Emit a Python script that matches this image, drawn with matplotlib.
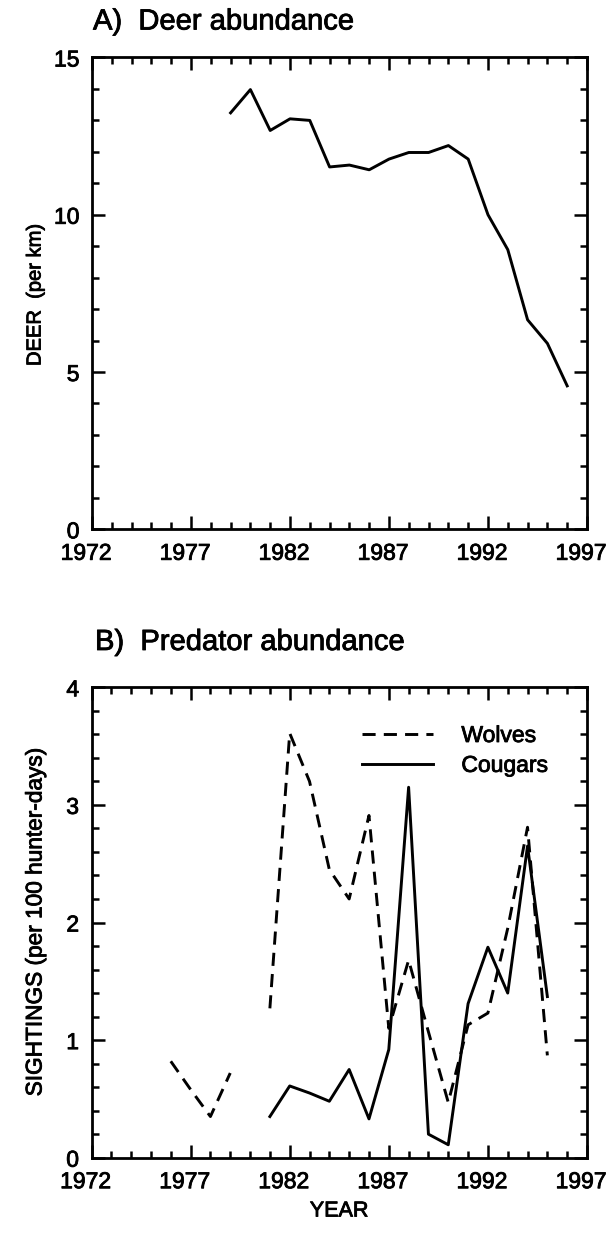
import numpy as np
import matplotlib
matplotlib.use("Agg")
import matplotlib.pyplot as plt
import matplotlib.transforms as mtransforms
import matplotlib.patheffects as pe
from matplotlib.ticker import MultipleLocator

plt.rcParams['font.family'] = ['Liberation Sans', 'DejaVu Sans']

# ---- data ----
deer_years = list(range(1979, 1997))
deer_values = [13.24, 13.98, 12.68, 13.05, 13.0, 11.52, 11.58, 11.43, 11.77,
               11.98, 11.98, 12.2, 11.77, 10.0, 8.89, 6.66, 5.91, 4.56]

wolf_years = list(range(1976, 1996))
wolf_values = [0.82, 0.58, 0.35, 0.72, np.nan, 1.27, 3.61, 3.2, 2.45, 2.2,
               2.91, 1.1, 1.68, 1.07, 0.47, 1.13, 1.23, 1.95, 2.81, 0.87]

cougar_years = list(range(1981, 1996))
cougar_values = [0.35, 0.61, 0.55, 0.48, 0.75, 0.33, 0.92, 3.15, 0.2, 0.11,
                 1.31, 1.79, 1.4, 2.65, 1.37]

x_ticks = [1972, 1977, 1982, 1987, 1992, 1997]

W, H = 608, 1236
fig = plt.figure(figsize=(W / 100, H / 100), dpi=100)

FS = 16.5
LW = 2.1
HEAVY = [pe.withStroke(linewidth=0.6, foreground='black')]


def px_axes(left, top, right, bottom):
    return fig.add_axes([left / W, 1 - bottom / H, (right - left) / W, (bottom - top) / H])


def style(ax, ymax, ymajor, yminor):
    ax.set_xlim(1972, 1997)
    ax.set_ylim(0, ymax)
    ax.set_xticks(x_ticks)
    ax.xaxis.set_minor_locator(MultipleLocator(1))
    ax.yaxis.set_major_locator(MultipleLocator(ymajor))
    ax.yaxis.set_minor_locator(MultipleLocator(yminor))
    ax.tick_params(which='both', direction='in', top=True, right=True,
                   width=1.8, labelsize=FS, color='black')
    ax.tick_params(which='major', length=9.5, pad=9)
    ax.tick_params(which='minor', length=5)
    for s in ax.spines.values():
        s.set_linewidth(2.0)
    shift = mtransforms.ScaledTranslation(-6 / 100, 0, fig.dpi_scale_trans)
    for lab in ax.get_xticklabels():
        lab.set_transform(lab.get_transform() + shift)
        lab.set_path_effects(HEAVY)
    for lab in ax.get_yticklabels():
        lab.set_path_effects(HEAVY)


# Panel A
axA = px_axes(92, 57.5, 587, 529.3)
axA.plot(deer_years, deer_values, color='black', lw=LW)
style(axA, 15, 5, 1)
fig.text(93 / W, 1 - 29.5 / H, 'A)  Deer abundance', fontsize=21,
         ha='left', va='baseline', path_effects=HEAVY)
fig.text(35 / W, 1 - 295 / H, 'DEER  (per km)', fontsize=14.5,
         rotation=90, ha='center', va='center', path_effects=HEAVY)

# Panel B
axB = px_axes(91.5, 687.3, 587, 1157.7)
axB.plot(wolf_years, wolf_values, color='black', lw=LW, linestyle=(0, (4.5, 2.8)),
         label='Wolves')
axB.plot(cougar_years, cougar_values, color='black', lw=LW, label='Cougars')
style(axB, 4, 1, 0.2)
fig.text(95 / W, 1 - 650 / H, 'B)  Predator abundance', fontsize=21,
         ha='left', va='baseline', path_effects=HEAVY)
fig.text(35 / W, 1 - 922 / H, 'SIGHTINGS (per 100 hunter-days)', fontsize=16.3,
         rotation=90, ha='center', va='center', path_effects=HEAVY)
fig.text(339 / W, 1 - 1211 / H, 'YEAR', fontsize=FS - 1, ha='center', va='center',
         path_effects=HEAVY)

leg = axB.legend(loc='upper left', bbox_to_anchor=(361.7 / W, 1 - 724 / H),
                 bbox_transform=fig.transFigure, frameon=False, fontsize=FS,
                 handlelength=3.1, handletextpad=1.25, labelspacing=0.3,
                 borderpad=0, borderaxespad=0)
for t in leg.get_texts():
    t.set_path_effects(HEAVY)

fig.savefig('out.png', dpi=100)
